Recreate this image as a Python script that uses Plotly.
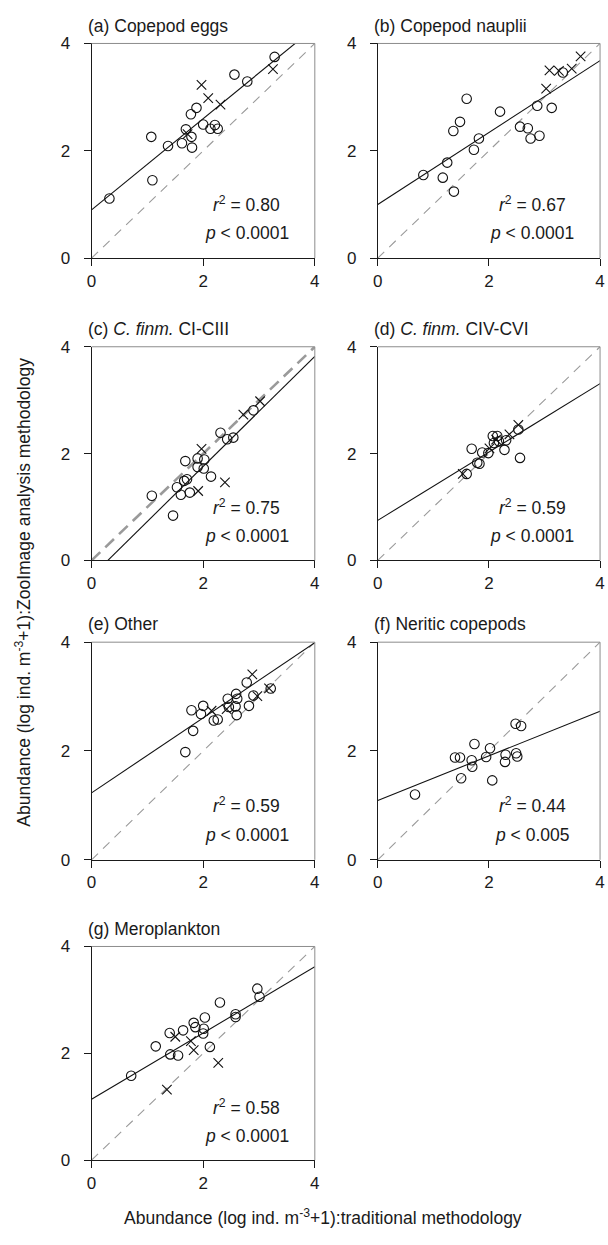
import plotly.graph_objects as go

W, H = 608, 1245
FONT = "Liberation Sans, Arial, Helvetica, sans-serif"

titles = ["(a) Copepod eggs", "(b) Copepod nauplii", "(c) <i>C. finm.</i> CI-CIII",
          "(d) <i>C. finm.</i> CIV-CVI", "(e) Other", "(f) Neritic copepods", "(g) Meroplankton"]
r2_labels = ["0.80", "0.67", "0.75", "0.59", "0.59", "0.44", "0.58"]
p_labels = ["&lt; 0.0001", "&lt; 0.0001", "&lt; 0.0001", "&lt; 0.0001", "&lt; 0.0001", "&lt; 0.005", "&lt; 0.0001"]
fit_intercept = [0.90, 1.00, -0.30, 0.75, 1.23, 1.09, 1.14]
fit_slope = [0.85, 0.67, 1.03, 0.64, 0.69, 0.41, 0.62]
tick_vals = [0, 2, 4]

# (a) Copepod eggs
a_circ_x = [0.32, 1.07, 1.09, 1.37, 1.62, 1.69, 1.79, 1.78, 1.80, 1.88, 2.00, 2.13, 2.21, 2.26, 2.56, 2.79, 3.28]
a_circ_y = [1.11, 2.26, 1.45, 2.09, 2.14, 2.40, 2.26, 2.68, 2.06, 2.80, 2.49, 2.41, 2.48, 2.41, 3.42, 3.29, 3.75]
a_cross_x = [1.97, 2.09, 2.31, 3.25, 1.72]
a_cross_y = [3.23, 2.98, 2.86, 3.52, 2.31]
# (b) Copepod nauplii
b_circ_x = [0.82, 1.17, 1.25, 1.37, 1.36, 1.48, 1.60, 1.73, 1.82, 2.20, 2.56, 2.70, 2.75, 2.91, 2.87, 3.13, 3.33]
b_circ_y = [1.55, 1.50, 1.78, 1.24, 2.37, 2.54, 2.97, 2.02, 2.23, 2.73, 2.45, 2.42, 2.23, 2.28, 2.84, 2.80, 3.46]
b_cross_x = [3.03, 3.09, 3.26, 3.49, 3.65]
b_cross_y = [3.16, 3.50, 3.49, 3.53, 3.76]
# (c) C. finm. CI-CIII
c_circ_x = [1.08, 1.46, 1.53, 1.60, 1.66, 1.71, 1.68, 1.76, 1.90, 1.90, 2.02, 2.01, 2.14, 2.31, 2.43, 2.54, 2.90]
c_circ_y = [1.21, 0.84, 1.37, 1.23, 1.49, 1.52, 1.86, 1.27, 1.91, 1.75, 1.89, 1.72, 1.57, 2.39, 2.27, 2.30, 2.81]
c_cross_x = [1.91, 1.97, 2.39, 2.72, 3.02]
c_cross_y = [1.30, 2.09, 1.46, 2.73, 2.98]
# (d) C. finm. CIV-CVI
d_circ_x = [1.60, 1.69, 1.79, 1.83, 1.88, 1.99, 2.07, 2.15, 2.18, 2.28, 2.31, 2.53, 2.56, 2.09]
d_circ_y = [1.62, 2.09, 1.83, 1.81, 2.02, 2.01, 2.33, 2.33, 2.23, 2.07, 2.25, 2.45, 1.92, 2.20]
d_cross_x = [1.53, 2.01, 2.13, 2.37, 2.53]
d_cross_y = [1.62, 2.10, 2.26, 2.36, 2.54]
# (e) Other
e_circ_x = [1.68, 1.79, 1.82, 1.96, 2.00, 2.19, 2.26, 2.44, 2.46, 2.58, 2.59, 2.60, 2.61, 2.78, 2.82, 2.90, 3.21]
e_circ_y = [1.98, 2.75, 2.37, 2.68, 2.83, 2.56, 2.58, 2.96, 2.81, 2.82, 3.05, 2.66, 2.96, 3.26, 2.83, 3.02, 3.15]
e_cross_x = [2.15, 2.42, 2.88, 2.97, 3.18]
e_cross_y = [2.74, 2.77, 3.41, 3.01, 3.15]
# (f) Neritic copepods
f_circ_x = [0.67, 1.39, 1.48, 1.50, 1.69, 1.70, 1.74, 1.95, 2.02, 2.06, 2.30, 2.29, 2.48, 2.58, 2.49, 2.51]
f_circ_y = [1.20, 1.88, 1.88, 1.50, 1.83, 1.71, 2.13, 1.89, 2.05, 1.46, 1.93, 1.80, 2.50, 2.46, 1.96, 1.90]
f_cross_x = []
f_cross_y = []
# (g) Meroplankton
g_circ_x = [0.71, 1.15, 1.40, 1.41, 1.55, 1.64, 1.83, 1.86, 2.00, 2.01, 2.03, 2.12, 2.30, 2.58, 2.58, 2.97, 3.01]
g_circ_y = [1.58, 2.13, 2.38, 1.98, 1.96, 2.43, 2.57, 2.49, 2.37, 2.46, 2.67, 2.12, 2.95, 2.68, 2.73, 3.21, 3.06]
g_cross_x = [1.35, 1.50, 1.78, 1.83, 2.27]
g_cross_y = [1.32, 2.31, 2.23, 2.06, 1.82]

circ_x = [a_circ_x, b_circ_x, c_circ_x, d_circ_x, e_circ_x, f_circ_x, g_circ_x]
circ_y = [a_circ_y, b_circ_y, c_circ_y, d_circ_y, e_circ_y, f_circ_y, g_circ_y]
cross_x = [a_cross_x, b_cross_x, c_cross_x, d_cross_x, e_cross_x, f_cross_x, g_cross_x]
cross_y = [a_cross_y, b_cross_y, c_cross_y, d_cross_y, e_cross_y, f_cross_y, g_cross_y]

# layout in pixels
col_px = [(88, 315), (379, 605)]
row_px = [(35, 253), (343, 560), (643, 864), (952, 1169)]
TXT = "#1a1a1a"

fig = go.Figure()
layout = dict(width=W, height=H, margin=dict(l=0, r=0, t=0, b=0),
              paper_bgcolor="white", plot_bgcolor="white", showlegend=False,
              font=dict(family=FONT, size=17, color=TXT))
shapes = []
annotations = []

for i in range(7):
    r, c = divmod(i, 2)
    x0, x1 = col_px[c]
    y0, y1 = row_px[r]
    n = "" if i == 0 else str(i + 1)
    xa, ya = "x" + n, "y" + n
    axcommon = dict(range=[0, 4], tickvals=tick_vals, ticks="outside", ticklen=7, tickwidth=1,
                    tickcolor=TXT, showline=True, linecolor=TXT, linewidth=1,
                    showgrid=False, zeroline=False, tickfont=dict(size=17, family=FONT, color=TXT),
                    fixedrange=True)
    layout["xaxis" + n] = dict(axcommon, domain=[x0 / W, x1 / W], anchor=ya)
    layout["yaxis" + n] = dict(axcommon, domain=[1 - y1 / H, 1 - y0 / H], anchor=xa, ticklabelstandoff=10)

    # 1:1 dashed line
    thick = (i == 2)
    fig.add_trace(go.Scatter(x=[0, 4], y=[0, 4], mode="lines", xaxis=xa, yaxis=ya,
                             line=dict(color="#9a9a9a", width=2.6 if thick else 1.1,
                                       dash="12px,7px" if thick else "9px,7px"),
                             hoverinfo="skip"))
    # regression line
    fig.add_trace(go.Scatter(x=[0, 4], y=[fit_intercept[i], fit_intercept[i] + 4 * fit_slope[i]],
                             mode="lines", xaxis=xa, yaxis=ya,
                             line=dict(color="#111111", width=1.1), hoverinfo="skip"))
    # circles
    fig.add_trace(go.Scatter(x=circ_x[i], y=circ_y[i], mode="markers", xaxis=xa, yaxis=ya,
                             marker=dict(symbol="circle-open", size=9.5, color="#111111",
                                         line=dict(width=1.1, color="#111111")),
                             cliponaxis=False))
    if cross_x[i]:
        fig.add_trace(go.Scatter(x=cross_x[i], y=cross_y[i], mode="markers", xaxis=xa, yaxis=ya,
                                 marker=dict(symbol="x-thin-open", size=9.5, color="#111111",
                                             line=dict(width=1.1, color="#111111")),
                                 cliponaxis=False))
    # grey box top/right
    shapes.append(dict(type="line", xref=xa + " domain", yref=ya + " domain", x0=0, x1=1, y0=1, y1=1,
                       line=dict(color="#8c8c8c", width=1)))
    shapes.append(dict(type="line", xref=xa + " domain", yref=ya + " domain", x0=1, x1=1, y0=0, y1=1,
                       line=dict(color="#8c8c8c", width=1)))
    # panel title
    annotations.append(dict(text=titles[i], xref="paper", yref="paper", x=(x0 - 6) / W,
                            y=1 - (y0 - 18) / H, xanchor="left", yanchor="middle", showarrow=False,
                            font=dict(size=17.5, family=FONT, color=TXT)))
    # stats
    annotations.append(dict(text="<i>r</i><sup>2</sup> = " + r2_labels[i], xref=xa, yref=ya,
                            x=2.78, y=1.0, xanchor="center", yanchor="middle", showarrow=False,
                            font=dict(size=17.5, family=FONT, color=TXT)))
    annotations.append(dict(text="<i>p</i> " + p_labels[i], xref=xa, yref=ya,
                            x=2.78, y=0.46, xanchor="center", yanchor="middle", showarrow=False,
                            font=dict(size=17.5, family=FONT, color=TXT)))

annotations.append(dict(text="Abundance (log ind. m<sup>-3</sup>+1):ZooImage analysis methodology",
                        xref="paper", yref="paper", x=18 / W, y=1 - 592 / H, textangle=-90,
                        xanchor="center", yanchor="middle", showarrow=False,
                        font=dict(size=17.5, family=FONT, color=TXT)))
annotations.append(dict(text="Abundance (log ind. m<sup>-3</sup>+1):traditional methodology",
                        xref="paper", yref="paper", x=323 / W, y=1 - 1227 / H,
                        xanchor="center", yanchor="middle", showarrow=False,
                        font=dict(size=17.5, family=FONT, color=TXT)))

layout["shapes"] = shapes
layout["annotations"] = annotations
fig.update_layout(**layout)
fig.write_html("out.html")
